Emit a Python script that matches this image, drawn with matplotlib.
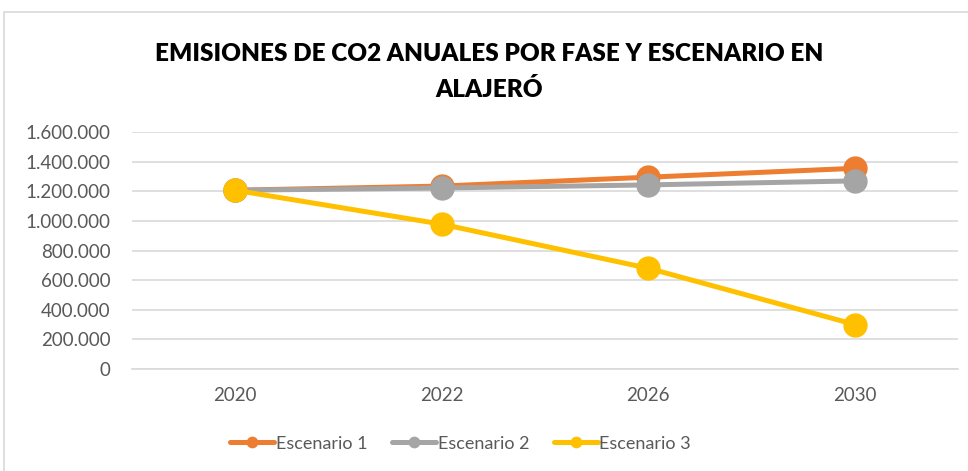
import matplotlib.pyplot as plt
from matplotlib.patches import Rectangle
from matplotlib.ticker import FuncFormatter

plt.rcParams['font.family'] = ['Lato', 'DejaVu Sans']

years = ['2020', '2022', '2026', '2030']
escenario1 = [1207000, 1235000, 1295000, 1355000]
escenario2 = [1207000, 1222000, 1243000, 1270000]
escenario3 = [1207000, 978000, 680000, 300000]
names = ['Escenario 1', 'Escenario 2', 'Escenario 3']
colors = ['#ED7D31', '#A5A5A5', '#FFC000']

fig = plt.figure(figsize=(9.68, 4.71), dpi=100)
ax = fig.add_axes([0.136, 0.2166, 0.854, 0.5031])

# chart frame
fig.patches.append(Rectangle((0.004, -0.01), 1.2, 0.985, transform=fig.transFigure,
                             fill=False, edgecolor='#D9D9D9', lw=1.2))

x = range(len(years))
for vals, name, c in zip([escenario1, escenario2, escenario3], names, colors):
    ax.plot(x, vals, color=c, lw=3.6, marker='o', markersize=16.5,
            solid_capstyle='round', label=name, zorder=3)

ax.set_xlim(-0.5, 3.5)
ax.set_ylim(0, 1600000)
ax.set_yticks(range(0, 1600001, 200000))
ax.yaxis.set_major_formatter(FuncFormatter(lambda v, p: f'{int(v):,}'.replace(',', '.')))
ax.set_xticks(list(x))
ax.set_xticklabels(years)
ax.grid(axis='y', color='#D9D9D9', lw=1.2)
ax.set_axisbelow(True)
for s in ['top', 'right', 'left']:
    ax.spines[s].set_visible(False)
ax.spines['bottom'].set_color('#D9D9D9')
ax.spines['bottom'].set_linewidth(1.2)
ax.tick_params(axis='both', length=0, colors='#595959', labelsize=13.5)
ax.tick_params(axis='y', pad=15)
ax.tick_params(axis='x', pad=13)

fig.text(0.505, 0.885, 'EMISIONES DE CO2 ANUALES POR FASE Y ESCENARIO EN', ha='center',
         va='center', fontsize=17.5, fontweight='heavy', color='black')
fig.text(0.505, 0.81, 'ALAJERÓ', ha='center', va='center', fontsize=17.5,
         fontweight='heavy', color='black')

leg = fig.legend(loc='center', bbox_to_anchor=(0.476, 0.058), ncol=3, frameon=False,
                 fontsize=13, handlelength=2.4, handletextpad=0.1, columnspacing=1.4,
                 markerscale=0.45)
for t in leg.get_texts():
    t.set_color('#595959')

fig.savefig('out.png', dpi=100)
